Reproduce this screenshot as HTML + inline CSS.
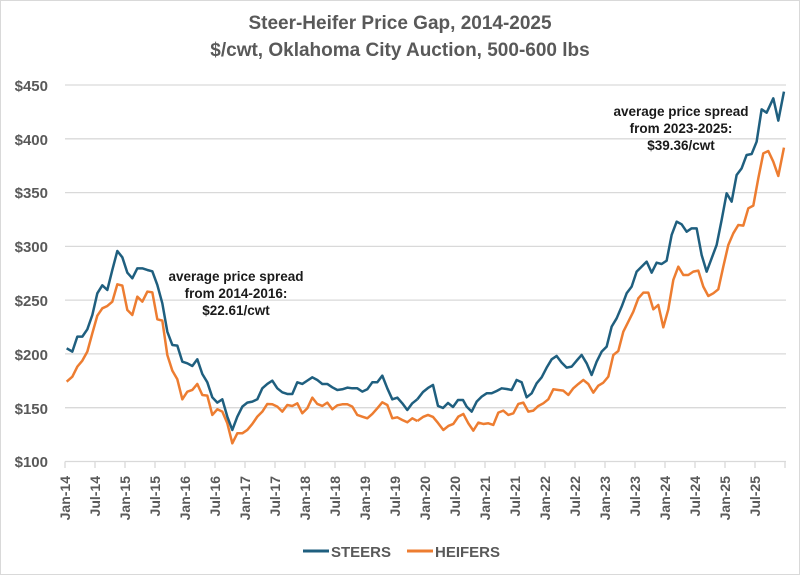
<!DOCTYPE html>
<html><head><meta charset="utf-8"><style>
html,body{margin:0;padding:0;background:#fff}
svg{display:block;font-family:"Liberation Sans",sans-serif}
</style></head><body>
<svg width="800" height="575" viewBox="0 0 800 575" xmlns="http://www.w3.org/2000/svg">
<rect x="0.5" y="0.5" width="799" height="574" fill="#fff" stroke="#d9d9d9"/>
<g font-weight="bold" fill="#595959" font-size="19" text-anchor="middle">
<text x="400" y="29">Steer-Heifer Price Gap, 2014-2025</text>
<text x="400" y="56">$/cwt, Oklahoma City Auction, 500-600 lbs</text>
</g>
<g stroke="#d9d9d9" stroke-width="1.3">
<line x1="65" x2="786" y1="85" y2="85"/><line x1="65" x2="786" y1="138.8" y2="138.8"/>
<line x1="65" x2="786" y1="192.6" y2="192.6"/><line x1="65" x2="786" y1="246.4" y2="246.4"/>
<line x1="65" x2="786" y1="300.1" y2="300.1"/><line x1="65" x2="786" y1="353.9" y2="353.9"/>
<line x1="65" x2="786" y1="407.7" y2="407.7"/><line x1="65" x2="786" y1="461.5" y2="461.5"/>
</g>
<g stroke="#d9d9d9" stroke-width="1.3" id="ticks"></g>
<g font-weight="bold" fill="#595959" font-size="15" text-anchor="end">
<text x="48" y="91">$450</text><text x="48" y="145">$400</text><text x="48" y="198">$350</text>
<text x="48" y="252">$300</text><text x="48" y="306">$250</text><text x="48" y="360">$200</text>
<text x="48" y="414">$150</text><text x="48" y="467">$100</text>
</g>
<g id="xl" font-weight="bold" fill="#595959" font-size="14" text-anchor="end"></g>
<g fill="none" stroke-width="7.5" stroke-linejoin="round">
<g transform="translate(40,70) scale(0.3333)">
<polyline stroke="#ed7d31" points="80,935 97,920 112,890 127,872 142,845 157,790 172,737 187,715 202,708 217,695 232,643 247,647 262,720 277,735 292,680 307,695 322,665 337,667 352,748 367,752 382,855 397,902 412,928 427,988 442,965 457,960 472,942 487,975 502,977 517,1035 532,1018 547,1025 562,1060 577,1120 592,1090 607,1090 622,1080 637,1062 652,1040 667,1025 682,1002 697,1003 712,1010 727,1025 742,1005 757,1008 772,1000 787,1030 802,1015 817,983 832,1002 847,1008 862,998 877,1018 892,1006 907,1003 922,1003 937,1010 952,1035 967,1040 982,1045 997,1032 1012,1015 1027,997 1042,1005 1057,1045 1072,1042 1087,1050 1102,1057 1117,1045 1132,1053"/>
<polyline stroke="#1f5f7f" points="80,835 97,845 112,800 127,800 142,778 157,735 172,670 187,646 202,660 217,600 232,543 247,562 262,608 277,625 292,595 307,595 322,600 337,604 352,645 367,700 382,785 397,825 412,827 427,875 442,880 457,888 472,868 487,912 502,937 517,982 532,998 547,988 562,1040 577,1080 592,1040 607,1010 622,998 637,995 652,988 667,955 682,942 697,932 712,955 727,967 742,972 757,972 772,937 787,942 802,932 817,922 832,930 847,942 862,942 877,952 892,960 907,958 922,953 937,955 952,955 967,965 982,958 997,937 1012,937 1027,917 1042,955 1057,988 1072,983 1087,1000 1102,1020 1117,1000 1132,988"/>
</g>
<g transform="translate(410,70) scale(0.3333)">
<polyline stroke="#ed7d31" points="22,1053 39,1041 54,1035 69,1041 84,1059 100,1080 115,1068 130,1062 145,1040 160,1032 175,1060 190,1082 205,1058 220,1062 235,1060 250,1065 265,1028 280,1022 295,1035 310,1030 325,1002 340,998 355,1025 370,1022 385,1008 400,1000 415,988 430,958 445,960 460,962 475,975 490,955 505,942 520,930 535,942 550,968 565,947 580,938 595,920 610,855 625,843 640,785 655,755 670,725 685,685 700,668 715,668 730,718 745,705 760,772 775,718 790,630 805,590 820,615 835,615 850,605 865,602 880,650 895,678 910,670 925,658 940,590 955,525 970,490 985,465 1000,467 1015,415 1030,407 1045,325 1060,250 1075,243 1090,275 1105,318 1122,233"/>
<polyline stroke="#1f5f7f" points="22,988 39,966 54,954 69,945 84,1008 99,1014 114,999 129,1011 144,990 159,990 170,1010 185,1025 200,995 215,980 230,970 245,970 260,963 275,955 290,957 305,960 320,930 335,937 350,982 365,970 380,940 395,922 410,893 425,868 440,858 455,878 470,893 485,890 500,872 515,855 530,880 545,915 560,875 575,845 590,830 605,770 620,745 635,710 650,670 665,650 680,605 695,590 710,575 725,608 740,578 755,582 770,572 785,495 800,455 815,463 830,485 845,475 860,475 875,555 890,605 905,565 920,525 935,450 950,370 965,395 980,315 995,295 1010,255 1025,252 1040,215 1055,118 1070,128 1090,85 1105,152 1122,65"/>
</g>
</g>
<g font-weight="bold" fill="#1a1a1a" font-size="13.5" text-anchor="middle">
<text x="236" y="281">average price spread</text>
<text x="236" y="298">from 2014-2016:</text>
<text x="236" y="315">$22.61/cwt</text>
<text x="681" y="116">average price spread</text>
<text x="681" y="133">from 2023-2025:</text>
<text x="681" y="150">$39.36/cwt</text>
</g>
<line x1="303" x2="329" y1="551" y2="551" stroke="#1f5f7f" stroke-width="3"/>
<text x="331" y="557" font-weight="bold" fill="#595959" font-size="15">STEERS</text>
<line x1="407" x2="433" y1="551" y2="551" stroke="#ed7d31" stroke-width="3"/>
<text x="435" y="557" font-weight="bold" fill="#595959" font-size="15">HEIFERS</text>
<script>
var t=document.getElementById('ticks'),xl=document.getElementById('xl'),ns='http://www.w3.org/2000/svg';
for(var i=0;i<=24;i++){var x=65+30*i;var l=document.createElementNS(ns,'line');l.setAttribute('x1',x);l.setAttribute('x2',x);l.setAttribute('y1',461.5);l.setAttribute('y2',468);t.appendChild(l);
if(i<24){var tx=document.createElementNS(ns,'text');var lx=x+5,ly=476;tx.setAttribute('transform','translate('+lx+','+ly+') rotate(-90)');tx.textContent=(i%2?'Jul-':'Jan-')+(14+Math.floor(i/2));xl.appendChild(tx);}}
</script>
</svg>
</body></html>
